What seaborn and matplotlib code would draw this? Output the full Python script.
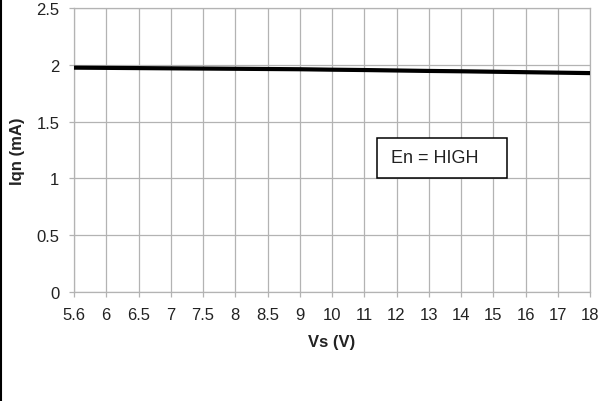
import matplotlib
matplotlib.use("Agg")
import matplotlib.pyplot as plt
from matplotlib.lines import Line2D
from matplotlib.patches import Rectangle
import seaborn as sns
import pandas as pd

# Data
vs_labels = ["5.6", "6", "6.5", "7", "7.5", "8", "8.5", "9", "10", "11",
             "12", "13", "14", "15", "16", "17", "18"]
iqn_ma = [1.975, 1.973, 1.971, 1.969, 1.967, 1.965, 1.963, 1.961, 1.957,
          1.954, 1.950, 1.946, 1.943, 1.939, 1.935, 1.931, 1.927]
y_ticks = [0, 0.5, 1, 1.5, 2, 2.5]
y_tick_labels = ["0", "0.5", "1", "1.5", "2", "2.5"]

sns.set_theme(style="white")
plt.rcParams["font.family"] = ["Liberation Sans", "DejaVu Sans"]

df = pd.DataFrame({"pos": list(range(len(vs_labels))), "iqn": iqn_ma})

fig = plt.figure(figsize=(6.07, 4.02), dpi=100)
ax = fig.add_axes([0.1219, 0.2711, 0.8502, 0.7065])

grid_c = "#b3b3b3"
sns.lineplot(data=df, x="pos", y="iqn", ax=ax, color="black", linewidth=3.0, zorder=3)

ax.set_xlim(0, len(vs_labels) - 1)
ax.set_ylim(0, 2.5)
ax.set_xticks(df["pos"])
ax.set_xticklabels(vs_labels)
ax.set_yticks(y_ticks)
ax.set_yticklabels(y_tick_labels)

ax.grid(True, color=grid_c, linewidth=0.9)
ax.set_axisbelow(True)
for s in ax.spines.values():
    s.set_color(grid_c)
    s.set_linewidth(0.9)

ax.tick_params(axis="x", length=3.5, width=0.9, color=grid_c, pad=7,
               labelsize=12, labelcolor="#222222", bottom=True)
ax.tick_params(axis="y", length=3.5, width=0.9, color=grid_c, pad=7,
               labelsize=12, labelcolor="#222222", left=True)

ax.set_xlabel("Vs (V)", fontsize=12, fontweight="bold", color="#222222", labelpad=9)
ax.set_ylabel("Iqn (mA)", fontsize=12, fontweight="bold", color="#222222", labelpad=8)

# Annotation box
ax.add_patch(Rectangle((0.587, 0.401), 0.252, 0.141, transform=ax.transAxes,
                       facecolor="white", edgecolor="black", linewidth=1.1, zorder=4))
ax.text(0.699, 0.474, "En = HIGH", transform=ax.transAxes, ha="center", va="center",
        fontsize=13, color="#222222", zorder=5)

# Left black border of the image
fig.add_artist(Line2D([0.0015, 0.0015], [0, 1], transform=fig.transFigure,
                      color="black", linewidth=1.5))

fig.savefig("out.png", dpi=100, facecolor="white")
